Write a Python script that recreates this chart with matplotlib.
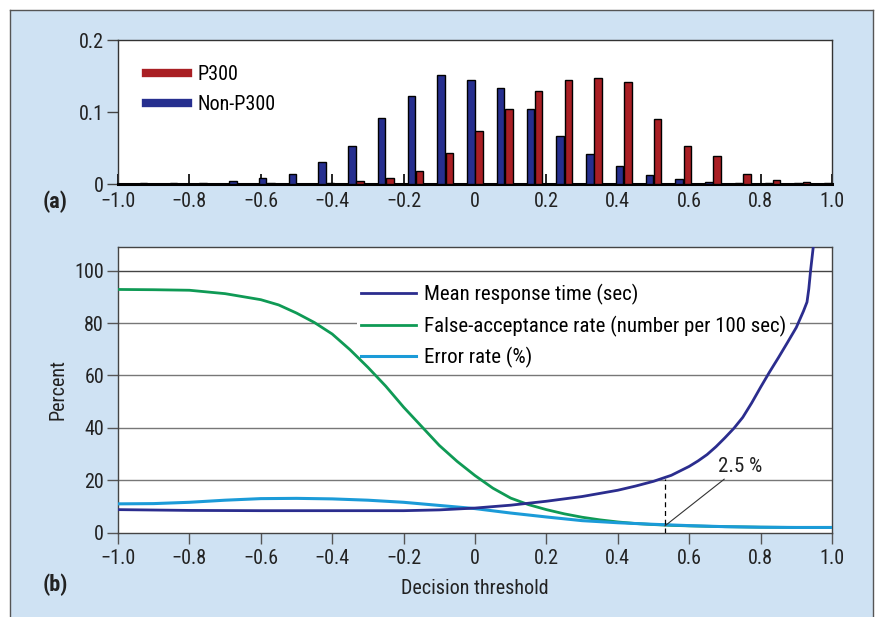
import numpy as np
import matplotlib
matplotlib.use("Agg")
import matplotlib.pyplot as plt
from matplotlib.lines import Line2D

plt.rcParams['font.family'] = ['Roboto Condensed', 'Archivo Narrow', 'Liberation Sans', 'DejaVu Sans']

# ---------------- data ----------------
bin_centers = np.arange(-11, 13) / 12.0
nonp300_vals = [0.0015, 0.0015, 0.0015, 0.004, 0.008, 0.014, 0.030, 0.053, 0.092, 0.122,
                0.152, 0.144, 0.134, 0.104, 0.067, 0.042, 0.025, 0.012, 0.007, 0.0025,
                0.0015, 0.0015, 0.0015, 0.0015]
p300_vals = [0, 0, 0, 0, 0.001, 0, 0.002, 0.004, 0.009, 0.018,
             0.0435, 0.073, 0.104, 0.129, 0.144, 0.147, 0.141, 0.090, 0.053, 0.039,
             0.014, 0.005, 0.003, 0]

x_ticks = [-1.0, -0.8, -0.6, -0.4, -0.2, 0, 0.2, 0.4, 0.6, 0.8, 1.0]
x_ticklabels = ['\u22121.0', '\u22120.8', '\u22120.6', '\u22120.4', '\u22120.2', '0',
                '0.2', '0.4', '0.6', '0.8', '1.0']
top_yticks = [0, 0.1, 0.2]
top_yticklabels = ['0', '0.1', '0.2']
bot_yticks = [0, 20, 40, 60, 80, 100]

far_x = [-1.0, -0.9, -0.8, -0.7, -0.6, -0.55, -0.5, -0.45, -0.4, -0.35, -0.3, -0.25,
         -0.2, -0.15, -0.1, -0.05, 0.0, 0.05, 0.1, 0.15, 0.2, 0.25, 0.3, 0.35, 0.4,
         0.45, 0.5, 0.55, 0.6, 0.7, 0.8, 0.9, 1.0]
far_y = [92.8, 92.7, 92.5, 91.2, 88.9, 86.9, 83.8, 80.2, 75.8, 69.8, 63.1, 55.9,
         47.9, 40.6, 33.3, 27.2, 21.8, 17.0, 13.2, 10.7, 8.8, 7.2, 5.9, 4.9, 4.1,
         3.5, 3.1, 2.8, 2.6, 2.3, 2.1, 2.0, 2.0]

err_x = [-1.0, -0.9, -0.8, -0.7, -0.6, -0.5, -0.4, -0.3, -0.2, -0.1, 0.0, 0.1, 0.2,
         0.3, 0.4, 0.5, 0.6, 0.7, 0.8, 0.9, 1.0]
err_y = [11.0, 11.1, 11.6, 12.4, 13.0, 13.1, 12.9, 12.4, 11.6, 10.4, 9.2, 7.5, 6.0,
         4.6, 3.8, 3.2, 2.7, 2.3, 2.1, 2.0, 2.0]

mrt_x = [-1.0, -0.8, -0.6, -0.4, -0.2, -0.1, 0.0, 0.1, 0.2, 0.3, 0.4, 0.45, 0.5,
         0.55, 0.6, 0.625, 0.65, 0.675, 0.7, 0.725, 0.75, 0.775, 0.8, 0.825, 0.85,
         0.875, 0.9, 0.92, 0.93, 0.935, 0.94, 0.95]
mrt_y = [8.8, 8.5, 8.4, 8.4, 8.4, 8.7, 9.4, 10.5, 12.0, 13.8, 16.2, 17.8, 19.6,
         21.9, 25.3, 27.4, 29.8, 32.8, 36.2, 39.8, 44.0, 49.5, 55.5, 61.3, 66.8,
         72.5, 78.3, 84.5, 88.0, 93.0, 100.0, 112.0]

threshold_x = 0.532
threshold_err = 2.6
threshold_mrt = 20.3
annot_text = '2.5 %'

# ---------------- style ----------------
BG = '#cfe2f3'
RED = '#a91f24'
BLUE = '#262f8f'
NAVY = '#2b2d8e'
GREEN = '#0f9a55'
LBLUE = '#1b9bd8'
GRID = '#777777'
TXT = '#222222'
FS = 14.5

fig = plt.figure(figsize=(8.76, 6.17), dpi=100)
fig.patch.set_facecolor('white')
W, H = 876, 617
fig.patches.append(plt.Rectangle((10 / W, 0), (873 - 10) / W, (H - 10) / H,
                                 transform=fig.transFigure, facecolor=BG,
                                 edgecolor='none', zorder=-10))
for xs, ys in [([10 / W, 10 / W], [0, 1 - 10 / H]),
               ([10 / W, 873 / W], [1 - 10 / H, 1 - 10 / H]),
               ([873 / W, 873 / W], [0, 1 - 10 / H])]:
    fig.add_artist(Line2D(xs, ys, transform=fig.transFigure, color='#555555', lw=1.0))

# ---------------- top axes ----------------
ax1 = fig.add_axes([118 / W, 1 - 184 / H, (832 - 118) / W, (184 - 40) / H])
ax1.set_facecolor('white')
bw = 0.021
off = 0.0115
ax1.bar(bin_centers - off, nonp300_vals, width=bw, color=BLUE, edgecolor='black',
        linewidth=1.0, label='Non-P300', zorder=3)
ax1.bar(bin_centers + off, p300_vals, width=bw, color=RED, edgecolor='black',
        linewidth=1.0, label='P300', zorder=3)
ax1.set_xlim(-1.0, 1.0)
ax1.set_ylim(0, 0.2)
ax1.set_xticks(x_ticks)
ax1.set_xticklabels(x_ticklabels)
ax1.set_yticks(top_yticks)
ax1.set_yticklabels(top_yticklabels)
ax1.tick_params(axis='x', direction='in', length=7, width=1.2, color='black',
                labelsize=FS, pad=6, labelcolor=TXT)
ax1.tick_params(axis='y', direction='out', length=8, width=1.0, color='#444444',
                labelsize=FS, pad=2, labelcolor=TXT)
for s in ['top', 'left', 'right']:
    ax1.spines[s].set_color('#333333')
    ax1.spines[s].set_linewidth(1.0)
ax1.spines['bottom'].set_color('black')
ax1.spines['bottom'].set_linewidth(2.2)
leg1_handles = [Line2D([], [], color=RED, lw=6), Line2D([], [], color=BLUE, lw=6)]
ax1.legend(leg1_handles, ['P300', 'Non-P300'], loc='upper left',
           bbox_to_anchor=(0.028, 0.88), frameon=False, fontsize=FS,
           handlelength=2.1, handletextpad=0.45, labelspacing=0.55,
           borderaxespad=0)
fig.text(55 / W, 1 - 202 / H, '(a)', fontsize=FS + 1.5, fontweight='heavy',
         ha='center', va='center', color=TXT)

# ---------------- bottom axes ----------------
ax2 = fig.add_axes([118 / W, 1 - 532.7 / H, (832 - 118) / W, (532.7 - 247) / H])
ax2.set_facecolor('white')
ax2.set_xlim(-1.0, 1.0)
ax2.set_ylim(0, 109)
ax2.set_xticks(x_ticks)
ax2.set_xticklabels(x_ticklabels)
ax2.set_yticks(bot_yticks)
for yv in bot_yticks[1:]:
    ax2.axhline(yv, color=GRID if yv != 100 else '#444444', lw=1.0, zorder=1)
ax2.plot(mrt_x, mrt_y, color=NAVY, lw=2.0, label='Mean response time (sec)', zorder=4)
ax2.plot(far_x, far_y, color=GREEN, lw=2.0,
         label='False-acceptance rate (number per 100 sec)', zorder=3)
ax2.plot(err_x, err_y, color=LBLUE, lw=2.2, label='Error rate (%)', zorder=3.5)
ax2.plot([threshold_x, threshold_x], [0, threshold_mrt], color='black', lw=0.9,
         ls=(0, (4, 3)), zorder=5)
ax2.annotate(annot_text, xy=(threshold_x, threshold_err), xytext=(0.68, 21.5),
             fontsize=FS + 0.5, color=TXT, ha='left', va='bottom',
             arrowprops=dict(arrowstyle='-', color='#333333', lw=0.8,
                             shrinkA=0, shrinkB=0), zorder=5)
leg2 = ax2.legend(loc='upper left', bbox_to_anchor=(0.335, 0.885), fontsize=FS + 0.5,
                  frameon=True, fancybox=False, framealpha=1.0, facecolor='white',
                  edgecolor='none', handlelength=2.6, handletextpad=0.4,
                  labelspacing=0.5, borderpad=0.2, borderaxespad=0)
leg2.set_zorder(2)
ax2.tick_params(axis='x', direction='out', length=8, width=1.0, color='#555555',
                labelsize=FS, pad=4, labelcolor=TXT)
ax2.tick_params(axis='y', direction='out', length=8, width=1.0, color='#555555',
                labelsize=FS, pad=2, labelcolor=TXT)
for s in ax2.spines.values():
    s.set_color('#444444')
    s.set_linewidth(1.0)
ax2.set_xlabel('Decision threshold', fontsize=FS, color=TXT, labelpad=8)
ax2.set_ylabel('Percent', fontsize=FS, color=TXT, labelpad=5)
fig.text(55 / W, 1 - 585 / H, '(b)', fontsize=FS + 1.5, fontweight='heavy',
         ha='center', va='center', color=TXT)

fig.savefig('out.png', dpi=100, facecolor=fig.get_facecolor())
